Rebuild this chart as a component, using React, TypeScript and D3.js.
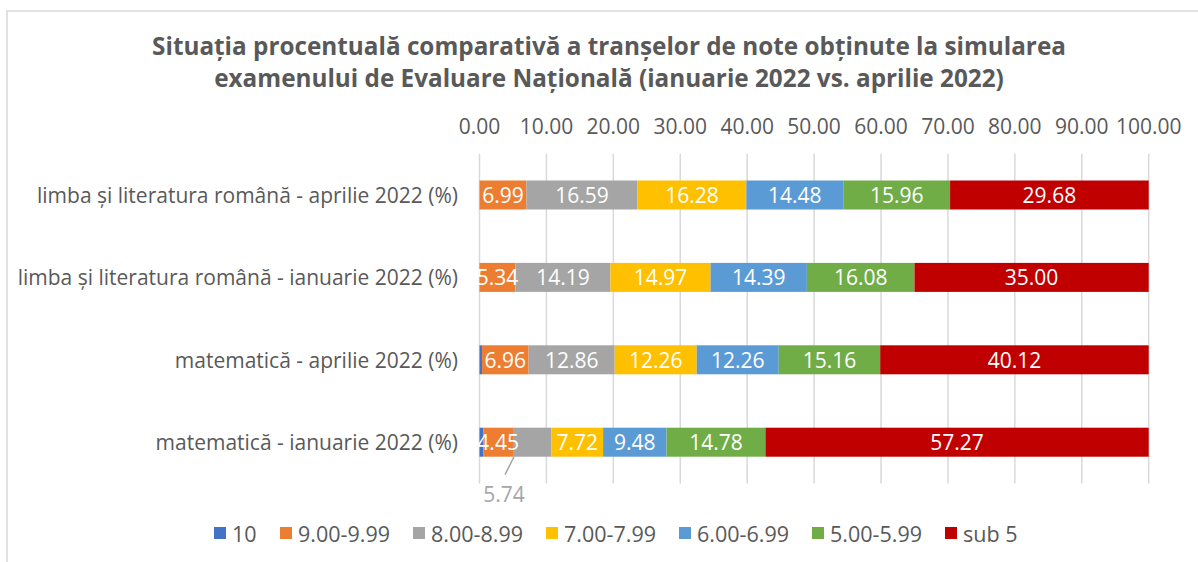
import React from 'react';
import * as d3 from 'd3';

// categories, top to bottom as drawn
const categories = [
  'limba și literatura română - aprilie 2022 (%)',
  'limba și literatura română - ianuarie 2022 (%)',
  'matematică - aprilie 2022 (%)',
  'matematică - ianuarie 2022 (%)',
];

const seriesNames = ['10', '9.00-9.99', '8.00-8.99', '7.00-7.99', '6.00-6.99', '5.00-5.99', 'sub 5'];
const seriesColors = ['#4472c4', '#ed7d31', '#a5a5a5', '#ffc000', '#5b9bd5', '#70ad47', '#c00000'];

const nota10 = [0.02, 0.03, 0.38, 0.56];
const nota9 = [6.99, 5.34, 6.96, 4.45];
const nota8 = [16.59, 14.19, 12.86, 5.74];
const nota7 = [16.28, 14.97, 12.26, 7.72];
const nota6 = [14.48, 14.39, 12.26, 9.48];
const nota5 = [15.96, 16.08, 15.16, 14.78];
const sub5 = [29.68, 35.0, 40.12, 57.27];

const xTicks = [0, 10, 20, 30, 40, 50, 60, 70, 80, 90, 100];

// labels that Excel pushed outside the bar (with a leader line)
const outsideLabels = [{ cat: 3, series: 2 }];

const titleLines = [
  'Situația procentuală comparativă a tranșelor de note obținute la simularea',
  'examenului de Evaluare Națională (ianuarie 2022 vs. aprilie 2022)',
];

const W = 1198;
const H = 562;
const font = '"Open Sans", sans-serif';
const textColor = '#595959';
const fs = 21;

const App = () => {
  const allSeries = [nota10, nota9, nota8, nota7, nota6, nota5, sub5];
  const rows = categories.map((c, i) => {
    const r: any = { cat: c };
    seriesNames.forEach((s, j) => (r[s] = allSeries[j][i]));
    return r;
  });
  const stacked = d3.stack<any>().keys(seriesNames)(rows);

  const x = d3.scaleLinear().domain([0, 100]).range([479.5, 1148.7]);
  const y = d3
    .scaleBand<string>()
    .domain(categories)
    .range([153.8, 483.4])
    .paddingInner(0.648)
    .paddingOuter(0.324);
  const bw = y.bandwidth();

  // legend: first slot narrow, rest equal like Excel
  const legendX = seriesNames.map((_, i) => (i === 0 ? 214 : 280 + (i - 1) * 133));

  return (
    <svg
      width={W}
      height={H}
      style={{ position: 'absolute', left: 0, top: 0, background: '#fff' }}
      fontFamily={font}
    >
      <rect x={7} y={11} width={W + 10} height={H + 10} fill="#fff" stroke="#d9d9d9" strokeWidth={1.5} />

      {titleLines.map((t, i) => (
        <text
          key={i}
          x={609}
          y={55 + i * 32}
          textAnchor="middle"
          fontSize={24.3}
          fontWeight="bold"
          fill={textColor}
        >
          {t}
        </text>
      ))}

      {xTicks.map((t) => (
        <g key={t}>
          <line x1={x(t)} x2={x(t)} y1={153.8} y2={483.4} stroke="#d9d9d9" strokeWidth={1.5} />
          <text x={x(t)} y={134} textAnchor="middle" fontSize={fs} fill={textColor}>
            {d3.format('.2f')(t)}
          </text>
        </g>
      ))}

      {categories.map((c) => (
        <text
          key={c}
          x={458}
          y={(y(c) as number) + bw / 2}
          textAnchor="end"
          dominantBaseline="central"
          fontSize={fs}
          fill={textColor}
        >
          {c}
        </text>
      ))}

      {stacked.map((s, si) => (
        <g key={s.key} fill={seriesColors[si]}>
          {s.map((d, ci) => (
            <rect
              key={ci}
              x={x(d[0])}
              y={y(categories[ci])}
              width={x(d[1]) - x(d[0])}
              height={bw}
            />
          ))}
        </g>
      ))}

      {stacked.map((s, si) =>
        si === 0
          ? null
          : s.map((d, ci) => {
              const v = d[1] - d[0];
              const top = y(categories[ci]) as number;
              const out = outsideLabels.some((o) => o.cat === ci && o.series === si);
              if (out) {
                const x0 = x(d[0]);
                return (
                  <g key={`${si}-${ci}`}>
                    <line x1={x0 + 1} y1={top + bw} x2={x0 - 8} y2={top + bw + 18} stroke="#a6a6a6" strokeWidth={1.5} />
                    <text x={x0 - 9} y={top + bw + 45} textAnchor="middle" fontSize={fs} fill="#a6a6a6">
                      {d3.format('.2f')(v)}
                    </text>
                  </g>
                );
              }
              return (
                <text
                  key={`${si}-${ci}`}
                  x={(x(d[0]) + x(d[1])) / 2}
                  y={top + bw / 2}
                  textAnchor="middle"
                  dominantBaseline="central"
                  fontSize={fs}
                  fill="#fff"
                >
                  {d3.format('.2f')(v)}
                </text>
              );
            })
      )}

      {seriesNames.map((s, i) => (
        <g key={s} transform={`translate(${legendX[i]},527)`}>
          <rect width={12} height={12} fill={seriesColors[i]} />
          <text x={18} y={6} dominantBaseline="central" fontSize={21.5} fill={textColor}>
            {s}
          </text>
        </g>
      ))}
    </svg>
  );
};

export default App;
